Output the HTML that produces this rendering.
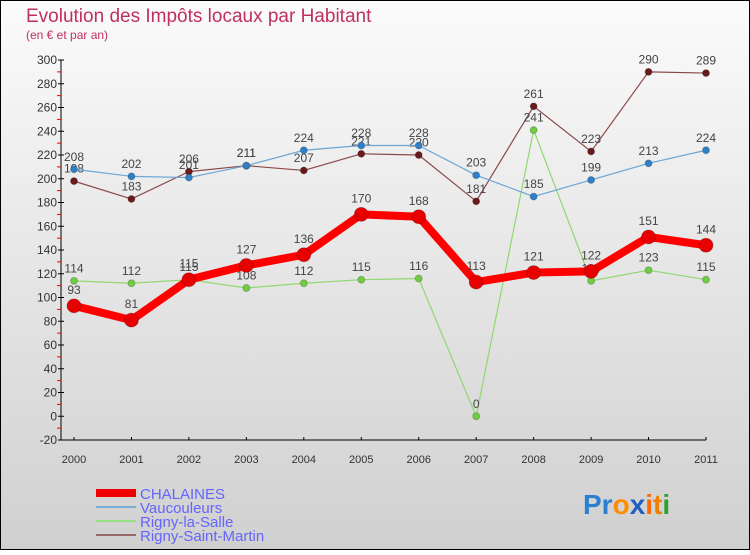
<!DOCTYPE html>
<html><head><meta charset="utf-8"><style>
body{margin:0;width:750px;height:550px;overflow:hidden;font-family:"Liberation Sans",sans-serif}
svg text{font-family:"Liberation Sans",sans-serif}
</style></head><body>
<svg id="chart" width="750" height="550">
<defs><linearGradient id="bg" x1="0" y1="0" x2="0" y2="1"><stop offset="0" stop-color="#fbfbfb"/><stop offset="1" stop-color="#d0d0d0"/></linearGradient></defs>
<rect x="0.5" y="0.5" width="749" height="549" fill="url(#bg)" stroke="#000"/>
<text x="26" y="22" font-size="19" fill="#c0305e">Evolution des Impôts locaux par Habitant</text>
<text x="26" y="39" font-size="12" fill="#c0305e">(en € et par an)</text>
<g id="axes"></g><g id="series"></g><g id="legend"></g>
<text x="583" y="514" font-size="28" font-weight="bold"><tspan fill="#2a7fd0">Pr</tspan><tspan fill="#ff8c00">o</tspan><tspan fill="#2060c0">x</tspan><tspan fill="#ff6a00">i</tspan><tspan fill="#f08000">t</tspan><tspan fill="#30a030">i</tspan></text>
</svg>
<script>
const years=[2000,2001,2002,2003,2004,2005,2006,2007,2008,2009,2010,2011];
const yTicks=[-20,0,20,40,60,80,100,120,140,160,180,200,220,240,260,280,300];
const chalaines=[93,81,115,127,136,170,168,113,121,122,151,144];
const vaucouleurs=[208,202,201,211,224,228,228,203,185,199,213,224];
const rignyLaSalle=[114,112,115,108,112,115,116,0,241,114,123,115];
const rignySaintMartin=[198,183,206,211,207,221,220,181,261,223,290,289];
const NS="http://www.w3.org/2000/svg";
const X=i=>74+i*(706-74)/11;
const Y=v=>440-(v+20)*380/320;
function mk(t,a,p){const e=document.createElementNS(NS,t);for(const k in a)e.setAttribute(k,a[k]);p.appendChild(e);return e;}
const ax=document.getElementById('axes');
let l=mk('line',{x1:61,y1:60,x2:61,y2:440,stroke:'#000'},ax);


l=mk('line',{x1:61,y1:440,x2:706,y2:440,stroke:'#000'},ax);


yTicks.forEach((v,i)=>{
 mk('line',{x1:58,y1:Y(v),x2:64,y2:Y(v),stroke:'#000'},ax);
 if(i<yTicks.length-1)mk('line',{x1:57,y1:Y(v+10),x2:61,y2:Y(v+10),stroke:'#e00'},ax);
 const t=mk('text',{x:57,y:Y(v)+4,'text-anchor':'end','font-size':12,fill:'#333'},ax);
 t.textContent=v;
 
 
});
years.forEach((y,i)=>{
 mk('line',{x1:X(i),y1:437,x2:X(i),y2:440,stroke:'#000'},ax);
 const t=mk('text',{x:X(i),y:463,'text-anchor':'middle','font-size':11,fill:'#333'},ax);
 t.textContent=y;
 
 
});
const series=[
 {name:'rigny-saint-martin',data:rignySaintMartin,c:'#8b4a4a',dot:'#6a1a1a',w:1.2,r:3.5},
 {name:'rigny-la-salle',data:rignyLaSalle,c:'#90d870',dot:'#70cc40',w:1.2,r:3.5},
 {name:'vaucouleurs',data:vaucouleurs,c:'#6aa6d6',dot:'#2f80c8',w:1.2,r:3.5},
 {name:'chalaines',data:chalaines,c:'#f00',dot:'#e80000',w:8,r:7}
];
const sg=document.getElementById('series');
series.forEach(s=>{
 const g=mk('g',{},sg);
 
 
 mk('polyline',{points:s.data.map((v,i)=>X(i)+','+Y(v)).join(' '),fill:'none',stroke:s.c,'stroke-width':s.w,'stroke-linejoin':'round'},g);
 s.data.forEach((v,i)=>{
  const c=mk('circle',{cx:X(i),cy:Y(v),r:s.r,fill:s.dot,stroke:'rgba(0,0,0,0.2)'},g);
  
  
  const t=mk('text',{x:X(i),y:Y(v)-(s.r+5),'text-anchor':'middle','font-size':12,fill:'#444'},g);
  t.textContent=v;
  
  
 });
});
const lg=document.getElementById('legend');
const leg=[['CHALAINES','#e00',8],['Vaucouleurs','#7aaed6',2],['Rigny-la-Salle','#98e080',2],['Rigny-Saint-Martin','#9a6a6a',2]];
leg.forEach((d,i)=>{
 const y=493+i*14;
 mk('line',{x1:96,y1:y,x2:136,y2:y,stroke:d[1],'stroke-width':d[2]},lg);
 const t=mk('text',{x:140,y:y+6,'font-size':15,fill:'#6464ff'},lg);
 t.textContent=d[0];
 
 
});
</script>
</body></html>
